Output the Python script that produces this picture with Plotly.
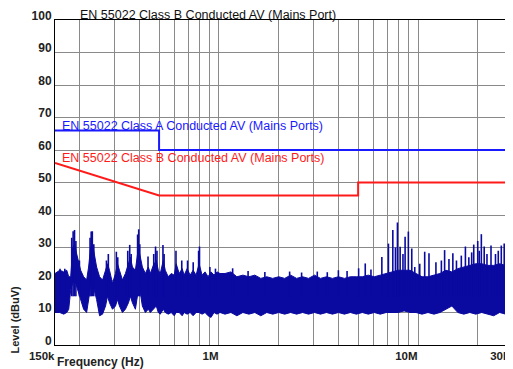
import plotly.graph_objects as go

# Limit lines (frequency in MHz, level in dBuV)
class_a_freq = [0.15, 0.5, 0.5, 30.0]
class_a_level = [66, 66, 60, 60]
class_b_freq = [0.15, 0.5, 5.0, 5.0, 30.0]
class_b_level = [56, 46, 46, 50, 50]

band_freq = [
    0.150, 0.1585, 0.166, 0.1718, 0.1758, 0.1799, 0.1841, 0.1884, 0.1928, 0.1972,
    0.2018, 0.2089, 0.2163, 0.2213, 0.2265, 0.2317, 0.2371, 0.2427, 0.2512, 0.2600,
    0.2692, 0.2754, 0.2818, 0.2917, 0.3020, 0.3090, 0.3162, 0.3273, 0.3388, 0.3508,
    0.3589, 0.3673, 0.3802, 0.3936, 0.4027, 0.4121, 0.4266, 0.4416, 0.4519, 0.4677,
    0.4842, 0.4955, 0.5070, 0.5248, 0.5370, 0.5559, 0.5754, 0.5957, 0.6095, 0.6310,
    0.6531, 0.6683, 0.6918, 0.7161, 0.7413, 0.7674, 0.7943, 0.8222, 0.8511, 0.8810,
    0.9120, 0.9441, 0.9772, 1.012, 1.072, 1.148, 1.230, 1.318, 1.413, 1.514,
    1.622, 1.738, 1.862, 1.995, 2.138, 2.291, 2.455, 2.630, 2.818, 3.020,
    3.236, 3.467, 3.715, 3.981, 4.266, 4.571, 4.898, 5.248, 5.623, 6.026,
    6.457, 6.918, 7.413, 7.943, 8.511, 9.120, 9.772, 10.47, 11.22, 12.02,
    12.88, 13.80, 14.79, 15.85, 16.98, 18.20, 19.50, 20.89, 22.39, 23.99,
    25.70, 27.54, 29.51, 30.0,
]
band_hi = [
    22, 23, 22.5, 23, 21, 21, 30, 31, 28, 25,
    23, 21, 20, 24, 30, 31, 27, 24, 21, 20,
    23, 25, 23, 19, 22, 25, 23, 20, 22, 25,
    27, 24, 23, 30, 27, 24, 22, 24, 22, 24.5,
    26, 23, 22, 26, 23, 21, 22, 21.5, 25, 22,
    23.5, 21.5, 23.5, 21.5, 23, 21.5, 25, 21.5, 22.5, 21,
    22.5, 21.5, 22.5, 22, 22, 22.5, 21, 21.5, 21, 21.5,
    20.5, 21, 20.5, 21, 20.5, 21.5, 20.5, 21, 20.5, 21.5,
    20.5, 21, 20.5, 21, 20.5, 21, 21, 21, 21.5, 21,
    21.5, 22, 22.5, 23, 23, 23, 22, 21, 21, 21.5,
    22, 23, 22.5, 23.5, 24, 24.5, 25, 25, 24.5, 24.5,
    25, 24.5, 25.5, 25,
]
band_lo = [
    10, 10, 9.5, 10, 11, 17, 19, 20, 18, 16,
    14, 11, 10, 14, 18, 19, 17, 14, 9, 9.5,
    12, 15, 13, 11, 12, 14, 12, 10, 11, 13,
    15, 13, 11, 17, 16, 12, 10, 11, 10, 11,
    12, 10, 9.5, 11, 10, 9.5, 10, 9, 10, 10,
    9, 10, 9.5, 10, 9, 10, 10, 9.5, 10, 9,
    8.5, 10, 9.5, 10, 9.5, 10, 9, 10, 9.5, 10,
    9, 10, 9.5, 10, 9.5, 10, 9.5, 10, 9.5, 10,
    9.5, 10, 9.5, 10, 9.5, 10, 9.5, 10, 9.5, 10,
    9.5, 10, 10, 10, 10.5, 10, 10, 9.5, 10, 9.5,
    10, 11, 12, 10, 9.5, 10, 9.5, 10, 9.5, 9,
    10, 9.5, 10, 10,
]

# Narrow spikes standing above the noise band (MHz, peak dBuV)
spike_freq = [
    0.1590, 0.1680, 0.1820, 0.1850, 0.1880, 0.1910, 0.1990, 0.2250, 0.2280, 0.2310,
    0.2350, 0.2720, 0.2780, 0.3050, 0.3100, 0.3480, 0.3560, 0.3620, 0.3900, 0.3950,
    0.4000, 0.4400, 0.4700, 0.4800, 0.4880, 0.5230, 0.5300, 0.6080, 0.6500, 0.6950,
    0.7420, 0.7900, 0.7980, 0.9000, 0.9600,
    1.171, 1.40, 1.70, 2.264, 2.60, 3.117, 3.50, 3.98, 4.40, 5.03,
    5.43, 5.80, 6.58, 7.10, 7.47, 7.70, 7.88, 8.13, 8.40, 8.61,
    8.94, 9.30, 9.63, 10.2, 10.8, 11.35, 12.3, 13.1, 13.6, 14.3,
    14.96, 15.6, 16.5, 17.3, 18.0, 18.6, 19.05, 19.95, 20.3, 20.8,
    21.5, 22.2, 23.26, 24.5, 25.3, 26.2, 27.1, 28.0, 28.8, 29.6,
]
spike_level = [
    23.5, 23.5, 33, 35, 35.4, 32, 26, 33, 34.9, 35,
    31, 26, 28, 28.7, 27, 29, 30.8, 28, 34, 35.6,
    31, 27.2, 28, 30.3, 29, 30.8, 28, 29, 26, 26,
    25.5, 29, 30.3, 24, 23.5,
    23.6, 22.8, 22.5, 22.6, 22.3, 22.6, 22.4, 23, 22.8, 23.6,
    25.1, 23.2, 27.1, 31.2, 35.4, 30, 37.7, 30.2, 28, 33.3,
    34.9, 29.7, 24, 25, 28.7, 28.2, 25.5, 26, 29.2, 26.5,
    28.2, 26, 27.5, 30.3, 27, 28.5, 30.9, 32, 29, 34.1,
    30.3, 28, 30.6, 28, 29, 30.6, 31.2, 28.5, 29, 27,
]

y_ticks = [0, 10, 20, 30, 40, 50, 60, 70, 80, 90, 100]
x_grid_mhz = [0.15, 0.2, 0.3, 0.4, 0.5, 0.6, 0.7, 0.8, 0.9, 1, 2, 3, 4, 5, 6, 7, 8, 9, 10, 20, 30]
x_labels = {0.15: "150k", 1: "1M", 10: "10M", 30: "30M"}

BAND_COLOR = "#0a0aa0"
MHZ = 1e6
FONT = "Liberation Sans, Arial, sans-serif"

fig = go.Figure()

# Noise band as a filled envelope
fig.add_trace(go.Scatter(
    x=[f * MHZ for f in band_freq + band_freq[::-1]],
    y=band_hi + band_lo[::-1],
    mode="lines",
    fill="toself",
    fillcolor=BAND_COLOR,
    line=dict(color=BAND_COLOR, width=1),
    hoverinfo="skip",
))

# Spikes as vertical strokes
sx, sy = [], []
for f, lvl in zip(spike_freq, spike_level):
    sx += [f * MHZ, f * MHZ, None]
    sy += [15, lvl, None]
fig.add_trace(go.Scatter(
    x=sx, y=sy, mode="lines",
    line=dict(color=BAND_COLOR, width=1.6),
    hoverinfo="skip",
))

fig.add_trace(go.Scatter(
    x=[f * MHZ for f in class_a_freq], y=class_a_level,
    mode="lines", line=dict(color="#1a1aff", width=2),
))
fig.add_trace(go.Scatter(
    x=[f * MHZ for f in class_b_freq], y=class_b_level,
    mode="lines", line=dict(color="#ff1a1a", width=2),
))

# page body has an 8px margin, so the figure is 8px smaller each way
fig.update_layout(
    width=505, height=361,
    margin=dict(l=47, r=0, t=12, b=24, autoexpand=False),
    plot_bgcolor="white",
    paper_bgcolor="white",
    showlegend=False,
    font=dict(family=FONT, size=11, color="#222"),
    xaxis=dict(
        type="log",
        range=[5.176091, 7.477121],
        tickvals=[f * MHZ for f in x_grid_mhz],
        ticktext=[x_labels.get(f, "") for f in x_grid_mhz],
        ticklabelposition="outside left",
        ticklabeloverflow="allow",
        tickfont=dict(family=FONT, size=11.5, color="#222", weight="bold"),
        automargin=False,
        showgrid=True, gridcolor="#8a8a8a", gridwidth=1,
        showline=True, linecolor="black", linewidth=1, mirror=True,
        zeroline=False, ticks="",
    ),
    yaxis=dict(
        range=[0, 100],
        tickvals=y_ticks,
        ticklabelposition="outside top",
        ticklabeloverflow="allow",
        ticklabelshift=4,
        tickfont=dict(family=FONT, size=12, color="#222", weight="bold"),
        automargin=False,
        showgrid=True, gridcolor="#8a8a8a", gridwidth=1,
        showline=True, linecolor="black", linewidth=1, mirror=True,
        zeroline=False, ticks="",
    ),
)

annots = [
    dict(text="EN 55022 Class B Conducted AV (Mains Port)", x=0.05, y=1.0154,
         xanchor="left", yanchor="middle", font=dict(color="#111", size=12.5)),
    dict(text="EN 55022 Class A Conducted AV (Mains Ports)", x=0.011, y=0.675,
         xanchor="left", yanchor="middle", font=dict(color="#1a1aff", size=12.5)),
    dict(text="EN 55022 Class B Conducted AV (Mains Ports)", x=0.011, y=0.576,
         xanchor="left", yanchor="middle", font=dict(color="#ff1a1a", size=12.5)),
    dict(text="Frequency (Hz)", x=0.0, y=-0.052, xanchor="left", yanchor="middle",
         font=dict(color="#222", size=12, weight="bold")),
    dict(text="Level (dBuV)", x=-0.0884, y=0.077, xanchor="center", yanchor="middle",
         textangle=-90, font=dict(color="#222", size=11, weight="bold")),
]
for a in annots:
    fig.add_annotation(xref="paper", yref="paper", showarrow=False, **a)

fig.write_html("out.html")
